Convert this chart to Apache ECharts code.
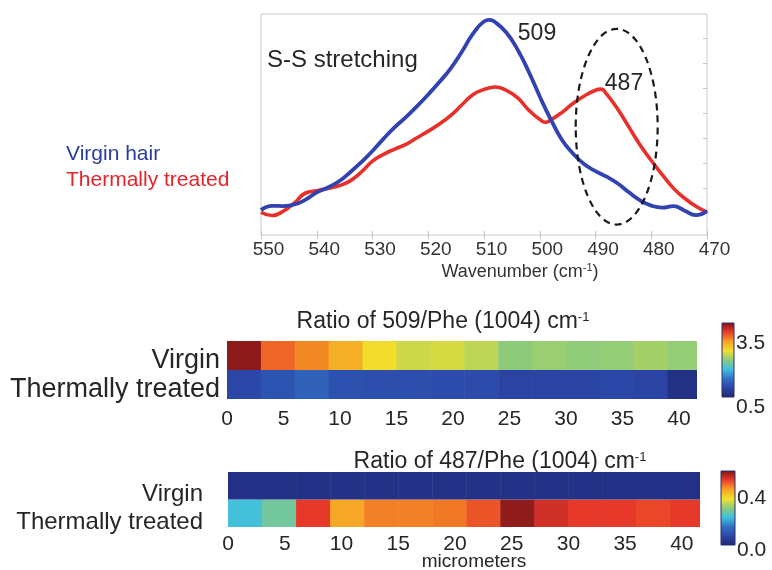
<!DOCTYPE html>
<html>
<head>
<meta charset="utf-8">
<script src="https://cdn.jsdelivr.net/npm/echarts@6/dist/echarts.min.js"></script>
<style>
  html, body { margin: 0; padding: 0; background: #ffffff; }
  #chart { width: 772px; height: 570px; }
</style>
</head>
<body>
<div id="chart"></div>
<script>
// Raman spectra in the S-S stretching region (arbitrary intensity units)
const wavenumber = [550,548,546,544,542,540,538,536,534,532,530,528,526,524,522,520,518,516,514,512,510,509,
                    508,506,504,502,500,499,498,496,494,492,490,489,488,486,484,482,480,478,476,474,472,470];
const virginIntensity = [11.3,13.2,13.1,13.8,16.0,19.3,21.5,24.3,28.4,33.0,38.0,43.6,48.8,53.3,58.3,63.6,69.2,75.3,82.8,91.0,96.6,97.3,
                         96.3,91.6,84.0,74.0,62.7,57.3,52.2,43.0,36.8,32.0,28.9,27.6,26.4,23.3,19.3,15.7,13.3,12.4,13.1,11.0,9.0,10.9];
const thermalIntensity = [10.3,8.8,10.8,14.5,19.0,20.0,21.1,22.3,24.5,28.5,33.4,36.5,38.9,41.0,44.0,47.0,50.2,54.0,58.8,63.5,65.9,66.6,
                          67.0,65.4,62.2,56.6,52.3,51.0,52.1,55.5,59.6,62.9,65.5,66.0,63.7,56.9,48.8,40.7,33.7,27.2,21.1,16.6,13.0,10.3];
const wavenumberTicks = [470, 550, 10];            // min, max, step
const intensityTicks = [9.8, 21.1, 32.4, 43.7, 55.0, 66.3, 77.6, 88.9];

// Dashed region around the 487 cm-1 band: centre wavenumber, centre intensity, half-width, half-height
const bandRegion = [486.2, 49.0, 7.35, 44.3];

// Line-scan ratio maps across the fibre (each step covers 3 micrometers)
const stepWidth = 3;
const scanStart = [0, 3, 6, 9, 12, 15, 18, 21, 24, 27, 30, 33, 36, 39];
const scanLength = 41.6;
const scanTicks = [0, 5, 10, 15, 20, 25, 30, 35, 40];
const sampleRows = ['Thermally treated', 'Virgin'];

const ratio509Virgin  = [3.90, 3.35, 3.20, 3.00, 2.69, 2.51, 2.55, 2.44, 2.24, 2.30, 2.25, 2.27, 2.34, 2.27];
const ratio509Thermal = [0.95, 1.09, 1.23, 1.05, 1.02, 1.02, 0.99, 0.99, 0.92, 0.92, 0.92, 0.95, 0.92, 0.67];
const ratio487Virgin  = [0.03, 0.03, 0.03, 0.03, 0.03, 0.03, 0.03, 0.03, 0.03, 0.03, 0.03, 0.03, 0.03, 0.03];
const ratio487Thermal = [0.217, 0.262, 0.500, 0.420, 0.450, 0.450, 0.455, 0.480, 0.555, 0.515, 0.500, 0.500, 0.490, 0.500];

const range509 = [0.5, 3.97];
const range487 = [0.0, 0.57];
const colorbarTicks509 = [0.5, 3.5];
const colorbarTicks487 = [0.0, 0.4];

const jetPalette = ['#1e2470', '#2b45a6', '#3370c4', '#3fc0e0', '#8ccb7c', '#f2e02c', '#f6a024', '#e83a2a', '#7a1418'];

const FONT = "'Liberation Sans', Arial, Helvetica, sans-serif";
const TEXT = '#262626';
const BLUE = '#3043b0';
const RED = '#e8302a';

function pairs(xs, ys) { return xs.map((x, i) => [x, ys[i]]); }

function cells(rowValues) {
  const out = [];
  rowValues.forEach((values, row) => {
    values.forEach((v, i) => out.push([scanStart[i], row, v]));
  });
  return out;
}

function renderCell(params, api) {
  const x0 = api.value(0);
  const row = api.value(1);
  const a = api.coord([x0, row]);
  const b = api.coord([x0 + stepWidth, row]);
  const h = api.size([0, 1])[1];
  const cs = params.coordSys;
  const shape = echarts.graphic.clipRectByRect(
    { x: a[0], y: a[1] - h / 2, width: b[0] - a[0] + 0.5, height: h },
    { x: cs.x, y: cs.y, width: cs.width, height: cs.height }
  );
  if (!shape) return null;
  return { type: 'rect', shape: shape, style: { fill: api.visual('color') } };
}

function renderColorbar(params, api) {
  const lo = api.coord([0, api.value(0)]);
  const hi = api.coord([1, api.value(1)]);
  const stops = jetPalette.map((c, i) => ({ offset: i / (jetPalette.length - 1), color: c }));
  return {
    type: 'rect',
    shape: { x: lo[0], y: hi[1], width: hi[0] - lo[0], height: lo[1] - hi[1] },
    style: { fill: new echarts.graphic.LinearGradient(0, 1, 0, 0, stops), stroke: '#2a2f6a', lineWidth: 1 }
  };
}

function renderRegion(params, api) {
  const c = api.coord([api.value(0), api.value(1)]);
  const e = api.coord([api.value(0) - api.value(2), api.value(1) + api.value(3)]);
  return {
    type: 'ellipse',
    shape: { cx: c[0], cy: c[1], rx: Math.abs(e[0] - c[0]), ry: Math.abs(e[1] - c[1]) },
    style: { fill: 'none', stroke: '#1a1a1a', lineWidth: 2.2, lineDash: [7, 5] }
  };
}

// Labels sit a little below their tick: top-aligned text in a short line box
const heatXAxis = (gridIndex, margin) => ({
  type: 'value', gridIndex: gridIndex, min: 0, max: scanLength,
  axisLine: { show: false }, axisTick: { show: false }, splitLine: { show: false },
  axisLabel: { customValues: scanTicks, margin: margin, fontSize: 21, fontFamily: FONT, color: TEXT }
});
const heatYAxis = (gridIndex, size, margin, drop) => ({
  type: 'category', gridIndex: gridIndex, data: sampleRows,
  axisLine: { show: false }, axisTick: { show: false },
  axisLabel: { interval: 0, fontSize: size, fontFamily: FONT, color: TEXT, margin: margin,
               verticalAlign: 'top', lineHeight: drop * 2 }
});
const barXAxis = (gridIndex) => ({ type: 'value', gridIndex: gridIndex, min: 0, max: 1, show: false });
const barYAxis = (gridIndex, range, ticks, drop) => ({
  type: 'value', gridIndex: gridIndex, position: 'right', min: range[0], max: range[1],
  axisLine: { show: false }, axisTick: { show: false }, splitLine: { show: false },
  axisLabel: { customValues: ticks, margin: 2, fontSize: 21, fontFamily: FONT, color: TEXT,
               verticalAlign: 'top', lineHeight: drop * 2, formatter: v => v.toFixed(1) }
});

const option = {
  animation: false,
  backgroundColor: '#ffffff',
  grid: [
    { left: 261, top: 14, width: 446, height: 221, show: true, borderColor: '#cacaca', borderWidth: 1, backgroundColor: 'transparent' },
    { left: 227, top: 341, width: 470, height: 58 },
    { left: 722, top: 323, width: 12, height: 74 },
    { left: 228, top: 472, width: 472, height: 55 },
    { left: 721, top: 471, width: 14, height: 74 }
  ],
  xAxis: [
    { type: 'value', gridIndex: 0, inverse: true, min: wavenumberTicks[0], max: wavenumberTicks[1], interval: wavenumberTicks[2],
      axisLine: { show: false }, splitLine: { show: false },
      axisTick: { inside: true, length: 4, lineStyle: { color: '#c4c4c4' } },
      axisLabel: { margin: 5, fontSize: 19, fontFamily: FONT, color: '#333333', padding: [0, 0, 0, 15] } },
    { type: 'value', gridIndex: 0, position: 'top', inverse: true, min: wavenumberTicks[0], max: wavenumberTicks[1], interval: wavenumberTicks[2],
      axisLine: { show: false }, splitLine: { show: false }, axisLabel: { show: false },
      axisTick: { inside: true, length: 4, lineStyle: { color: '#c4c4c4' } } },
    heatXAxis(1, 10),
    barXAxis(2),
    heatXAxis(3, 7),
    barXAxis(4)
  ],
  yAxis: [
    { type: 'value', gridIndex: 0, min: 0, max: 100, show: false },
    { type: 'value', gridIndex: 0, position: 'right', min: 0, max: 100,
      axisLine: { show: false }, splitLine: { show: false }, axisLabel: { show: false },
      axisTick: { inside: true, length: 4, customValues: intensityTicks, lineStyle: { color: '#c4c4c4' } } },
    heatYAxis(1, 27, 7, 5),
    barYAxis(2, range509, colorbarTicks509, 10),
    heatYAxis(3, 24, 25, 9),
    barYAxis(4, range487, colorbarTicks487, 5)
  ],
  visualMap: [
    { type: 'continuous', show: false, seriesIndex: 3, dimension: 2, min: range509[0], max: range509[1], inRange: { color: jetPalette } },
    { type: 'continuous', show: false, seriesIndex: 5, dimension: 2, min: range487[0], max: range487[1], inRange: { color: jetPalette } }
  ],
  series: [
    { name: 'Thermally treated', type: 'line', xAxisIndex: 0, yAxisIndex: 0, data: pairs(wavenumber, thermalIntensity),
      smooth: 0.5, showSymbol: false, lineStyle: { color: RED, width: 3.6 }, z: 3 },
    { name: 'Virgin hair', type: 'line', xAxisIndex: 0, yAxisIndex: 0, data: pairs(wavenumber, virginIntensity),
      smooth: 0.5, showSymbol: false, lineStyle: { color: BLUE, width: 3.8 }, z: 4 },
    { type: 'custom', xAxisIndex: 0, yAxisIndex: 0, data: [bandRegion], renderItem: renderRegion, z: 5, silent: true },
    { type: 'custom', xAxisIndex: 2, yAxisIndex: 2, data: cells([ratio509Thermal, ratio509Virgin]),
      encode: { x: 0, y: 1 }, renderItem: renderCell },
    { type: 'custom', xAxisIndex: 3, yAxisIndex: 3, data: [range509], encode: { y: [0, 1] }, renderItem: renderColorbar },
    { type: 'custom', xAxisIndex: 4, yAxisIndex: 4, data: cells([ratio487Thermal, ratio487Virgin]),
      encode: { x: 0, y: 1 }, renderItem: renderCell },
    { type: 'custom', xAxisIndex: 5, yAxisIndex: 5, data: [range487], encode: { y: [0, 1] }, renderItem: renderColorbar }
  ],
  graphic: [
    { type: 'text', x: 267, y: 60, style: { text: 'S-S stretching', font: "24px " + FONT, fill: TEXT, align: 'left', verticalAlign: 'middle' } },
    { type: 'text', x: 537, y: 34, style: { text: '509', font: "23px " + FONT, fill: TEXT, align: 'center', verticalAlign: 'middle' } },
    { type: 'text', x: 624, y: 84, style: { text: '487', font: "23px " + FONT, fill: TEXT, align: 'center', verticalAlign: 'middle' } },
    { type: 'text', x: 66, y: 154, style: { text: 'Virgin hair', font: "21px " + FONT, fill: '#2b3d9b', align: 'left', verticalAlign: 'middle' } },
    { type: 'text', x: 66, y: 180, style: { text: 'Thermally treated', font: "21px " + FONT, fill: '#e3242b', align: 'left', verticalAlign: 'middle' } },
    { type: 'text', x: 520, y: 272, style: { text: 'Wavenumber (cm{sup|-1})', font: "18px " + FONT, fill: '#333333', align: 'center', verticalAlign: 'middle',
        rich: { sup: { fontSize: 11, fontFamily: FONT, fill: '#333333', padding: [0, 0, 8, 0] } } } },
    { type: 'text', x: 443, y: 322, style: { text: 'Ratio of 509/Phe (1004) cm{sup|-1}', font: "23px " + FONT, fill: TEXT, align: 'center', verticalAlign: 'middle',
        rich: { sup: { fontSize: 13, fontFamily: FONT, fill: TEXT, padding: [0, 0, 10, 0] } } } },
    { type: 'text', x: 500, y: 462, style: { text: 'Ratio of 487/Phe (1004) cm{sup|-1}', font: "23px " + FONT, fill: TEXT, align: 'center', verticalAlign: 'middle',
        rich: { sup: { fontSize: 13, fontFamily: FONT, fill: TEXT, padding: [0, 0, 10, 0] } } } },
    { type: 'text', x: 474, y: 562, style: { text: 'micrometers', font: "19px " + FONT, fill: TEXT, align: 'center', verticalAlign: 'middle' } }
  ]
};

const chart = echarts.init(document.getElementById('chart'), null, { renderer: 'canvas' });
chart.setOption(option);
</script>
</body>
</html>
